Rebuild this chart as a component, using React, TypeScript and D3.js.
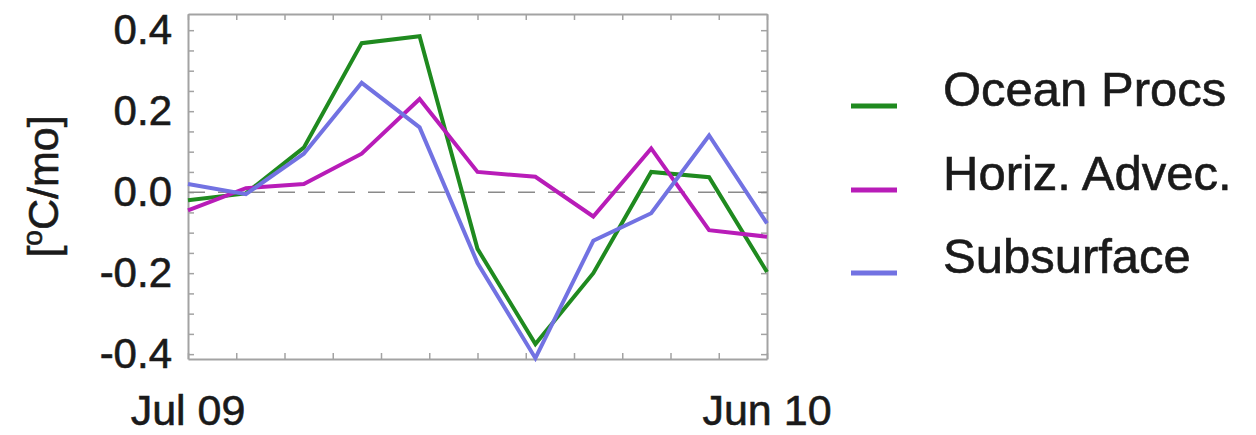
import React, { useEffect, useRef } from "react";
import * as d3 from "d3";

// monthly tendencies, Jul 09 .. Jun 10 (11 samples as plotted)
const oceanProcs = [-0.02, -0.003, 0.11, 0.368, 0.385, -0.14, -0.375, -0.2, 0.05, 0.037, -0.197];
const horizAdvec = [-0.045, 0.01, 0.02, 0.095, 0.23, 0.05, 0.038, -0.06, 0.108, -0.094, -0.11];
const subsurface = [0.02, -0.005, 0.095, 0.27, 0.16, -0.175, -0.41, -0.12, -0.052, 0.14, -0.077];

const seriesNames = ["Ocean Procs", "Horiz. Advec.", "Subsurface"];
const seriesColors = ["#1f8a1f", "#b81cb8", "#7272e2"];
const xTickLabels = ["Jul 09", "Jun 10"];
const yMajorTicks = [-0.4, -0.2, 0.0, 0.2, 0.4];

const W = 1256;
const H = 435;
const margin = { left: 188, right: 489, top: 14, bottom: 76 };

function App() {
  const svgRef: any = useRef(null);

  useEffect(() => {
    draw();
  }, []);

  const draw = () => {
    const root = d3.select(svgRef.current);
    root.selectAll("*").remove();

    const innerW = W - margin.left - margin.right;
    const innerH = H - margin.top - margin.bottom;
    const font = "'Liberation Sans', Arial, Helvetica, sans-serif";
    const ink = "#1a1a1a";

    const svg = root.append("g").attr("transform", `translate(${margin.left},${margin.top})`);

    const x = d3.scaleLinear().domain([0, oceanProcs.length - 1]).range([0, innerW]);
    // minor month ticks along frame
    const xt = d3.scaleLinear().domain([0, 12]).range([0, innerW]);
    const y = d3.scaleLinear().domain([-0.412, 0.44]).range([innerH, 0]);

    const minorY = d3.range(-0.4, 0.4001, 0.05).map((v) => +v.toFixed(2));
    const minorX = d3.range(0, 13);

    const frame = (g: any) => {
      g.select(".domain").attr("stroke", "#a3a3a3").attr("stroke-width", 2);
      g.selectAll(".tick line").attr("stroke", "#a3a3a3").attr("stroke-width", 1.5);
      g.selectAll(".tick text").remove();
    };

    svg.append("g").call(d3.axisLeft(y).tickValues(minorY).tickSize(-6).tickSizeOuter(0)).call(frame);
    svg
      .append("g")
      .attr("transform", `translate(${innerW},0)`)
      .call(d3.axisRight(y).tickValues(minorY).tickSize(-6).tickSizeOuter(0))
      .call(frame);
    svg.append("g").call(d3.axisTop(xt).tickValues(minorX).tickSize(-6).tickSizeOuter(0)).call(frame);
    svg
      .append("g")
      .attr("transform", `translate(0,${innerH})`)
      .call(d3.axisBottom(xt).tickValues(minorX).tickSize(-6).tickSizeOuter(0))
      .call(frame);

    // y tick labels
    svg
      .append("g")
      .call(
        d3
          .axisLeft(y)
          .tickValues(yMajorTicks)
          .tickSize(0)
          .tickPadding(16)
          .tickFormat((d: any) => (+d).toFixed(1))
      )
      .call((g: any) => g.select(".domain").remove())
      .selectAll("text")
      .attr("font-family", font)
      .attr("font-size", 42)
      .attr("fill", ink)
      .attr("stroke", ink)
      .attr("stroke-width", 0.6);

    // x labels at ends
    svg
      .selectAll(".xlab")
      .data(xTickLabels)
      .enter()
      .append("text")
      .attr("x", (d, i) => x(i === 0 ? 0 : oceanProcs.length - 1))
      .attr("y", innerH + 66)
      .attr("text-anchor", "middle")
      .attr("font-family", font)
      .attr("font-size", 43)
      .attr("fill", ink)
      .attr("stroke", ink)
      .attr("stroke-width", 0.6)
      .text((d) => d);

    // zero line
    svg
      .append("line")
      .attr("x1", x(0))
      .attr("x2", x(oceanProcs.length - 1))
      .attr("y1", y(0))
      .attr("y2", y(0))
      .attr("stroke", "#8a8a8a")
      .attr("stroke-width", 1.5)
      .attr("stroke-dasharray", "17,13");

    const line = d3
      .line<number>()
      .x((d, i) => x(i))
      .y((d) => y(d));

    [oceanProcs, horizAdvec, subsurface].forEach((s, k) => {
      svg
        .append("path")
        .datum(s)
        .attr("fill", "none")
        .attr("stroke", seriesColors[k])
        .attr("stroke-width", 4)
        .attr("stroke-linejoin", "miter")
        .attr("d", line);
    });

    // y axis title
    const yt = root
      .append("text")
      .attr("transform", `translate(58,${margin.top + innerH / 2}) rotate(-90)`)
      .attr("text-anchor", "middle")
      .attr("font-family", font)
      .attr("font-size", 43)
      .attr("fill", ink)
      .attr("stroke", ink)
      .attr("stroke-width", 0.6);
    yt.append("tspan").text("[");
    yt.append("tspan").attr("font-size", 28).attr("dy", -16).text("o");
    yt.append("tspan").attr("dy", 16).text("C/mo]");

    // legend
    const legendY = [106, 190, 273];
    const lg = root.append("g");
    seriesNames.forEach((name, k) => {
      lg.append("line")
        .attr("x1", 851)
        .attr("x2", 897)
        .attr("y1", legendY[k])
        .attr("y2", legendY[k])
        .attr("stroke", seriesColors[k])
        .attr("stroke-width", 5);
      lg.append("text")
        .attr("x", 943)
        .attr("y", legendY[k])
        .attr("font-family", font)
        .attr("font-size", 49)
        .attr("fill", ink)
        .attr("stroke", ink)
        .attr("stroke-width", 0.6)
        .text(name);
    });
  };

  return (
    <div style={{ position: "absolute", left: 0, top: 0 }}>
      <svg ref={svgRef} width={W} height={H} style={{ display: "block", background: "#fff" }} />
    </div>
  );
}

export default App;
